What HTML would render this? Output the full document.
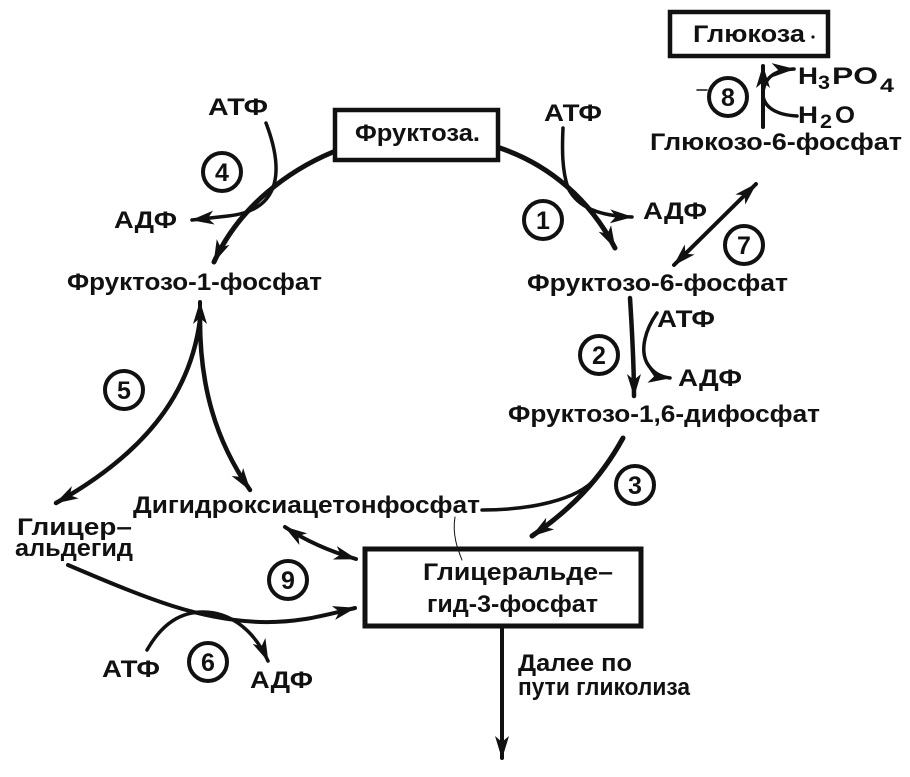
<!DOCTYPE html>
<html><head><meta charset="utf-8"><style>
html,body{margin:0;padding:0;background:#fff;}
svg{display:block;}
text{font-family:"Liberation Sans","DejaVu Sans",sans-serif;font-weight:bold;fill:#111;}
</style></head><body>
<svg width="910" height="777" viewBox="0 0 910 777" xmlns="http://www.w3.org/2000/svg">
<defs>
<marker id="ah" markerUnits="userSpaceOnUse" markerWidth="24" markerHeight="16" refX="22" refY="8" orient="auto-start-reverse">
<path d="M0,1 L23,8 L0,15 L6,8 z" fill="#111"/>
</marker>
</defs>
<g fill="none" stroke="#111" stroke-linecap="round">
<!-- boxes -->
<rect x="335" y="110" width="163" height="50" stroke-width="4.5"/>
<rect x="670" y="12" width="158" height="44" stroke-width="4.5"/>
<rect x="365" y="549" width="276" height="77" stroke-width="5"/>
<!-- circles -->
<g stroke-width="4">
<circle cx="222" cy="172" r="19"/>
<circle cx="543" cy="220" r="19"/>
<circle cx="599" cy="355" r="19"/>
<circle cx="635" cy="485" r="19"/>
<circle cx="124" cy="390" r="19"/>
<circle cx="208" cy="662" r="19"/>
<circle cx="744" cy="245" r="19"/>
<circle cx="728" cy="97" r="19"/>
<circle cx="288" cy="580" r="19"/>
</g>
<!-- Fructose -> F1P -->
<path d="M333,152 C 290,170 240,205 214,262" stroke-width="5" marker-end="url(#ah)"/>
<!-- ATP -> ADP (4) -->
<path d="M266,123 C 282,165 285,210 228,216 L 192,220" stroke-width="3.5" marker-end="url(#ah)"/>
<!-- Fructose -> F6P -->
<path d="M500,148 C 550,165 590,200 615,248" stroke-width="5" marker-end="url(#ah)"/>
<!-- ATP -> ADP (1) -->
<path d="M563,128 C 562,150 562,170 568,188 C 578,208 600,216 632,217" stroke-width="3.5" marker-end="url(#ah)"/>
<!-- double arrow 7 -->
<path d="M674,265 L756,184" stroke-width="4" marker-start="url(#ah)" marker-end="url(#ah)"/>
<!-- G6P -> Glucose -->
<path d="M763,127 L763,66" stroke-width="4" marker-end="url(#ah)"/>
<!-- curve 8 -->
<path d="M797,116 C 775,115 762,106 763,92 C 765,77 775,70 794,69" stroke-width="3.5" marker-end="url(#ah)"/>
<path d="M697,90 L707,90" stroke-width="1.5"/>
<!-- F6P -> F16BP -->
<path d="M630,298 C 632,330 634,365 634,396" stroke-width="4.5" marker-end="url(#ah)"/>
<!-- ATP -> ADP (2) -->
<path d="M657,313 C 645,330 640,350 647,363 C 652,372 660,377 670,378" stroke-width="3.5" marker-end="url(#ah)"/>
<!-- curve 3 -->
<path d="M623,438 C 600,480 570,510 532,536" stroke-width="5" marker-end="url(#ah)"/>
<path d="M482,510 C 530,510 578,500 596,478" stroke-width="3.5"/>
<path d="M455,517 C 452,535 458,550 462,560" stroke-width="1"/>
<!-- down arrow -->
<path d="M502,628 L502,758" stroke-width="4" marker-end="url(#ah)"/>
<!-- DHAP <-> box -->
<path d="M285,527 Q 315,547 356,559" stroke-width="4" marker-start="url(#ah)" marker-end="url(#ah)"/>
<!-- curve 9 -->
<path d="M68,565 C 150,600 200,620 260,622 C 300,623 325,615 355,608" stroke-width="4" marker-end="url(#ah)"/>
<!-- curve 6 -->
<path d="M147,650 C 163,622 182,612 203,612 C 232,612 255,632 268,661" stroke-width="3.5" marker-end="url(#ah)"/>
<!-- curve 5 -->
<path d="M200,330 L200,302" stroke-width="4" marker-end="url(#ah)"/>
<path d="M200,320 C 192,380 160,445 56,503" stroke-width="4.5" marker-end="url(#ah)"/>
<path d="M200,320 C 200,385 215,440 250,490" stroke-width="4.5" marker-end="url(#ah)"/>
</g>
<circle cx="813" cy="37" r="1.6" fill="#111"/>
<!-- labels -->
<g font-size="24">
<text x="355" y="141" textLength="125" lengthAdjust="spacingAndGlyphs">Фруктоза.</text>
<text x="693" y="42" textLength="112" lengthAdjust="spacingAndGlyphs">Глюкоза</text>
<text x="208" y="115" textLength="60" lengthAdjust="spacingAndGlyphs">АТФ</text>
<text x="114" y="228" textLength="63" lengthAdjust="spacingAndGlyphs">АДФ</text>
<text x="544" y="121" textLength="58" lengthAdjust="spacingAndGlyphs">АТФ</text>
<text x="643" y="219" textLength="64" lengthAdjust="spacingAndGlyphs">АДФ</text>
<text x="67" y="290" textLength="255" lengthAdjust="spacingAndGlyphs">Фруктозо-1-фосфат</text>
<text x="527" y="291" textLength="261" lengthAdjust="spacingAndGlyphs">Фруктозо-6-фосфат</text>
<text x="650" y="150" textLength="252" lengthAdjust="spacingAndGlyphs">Глюкозо-6-фосфат</text>
<text x="798" y="84" textLength="20" lengthAdjust="spacingAndGlyphs">H</text>
<text x="818" y="89" font-size="19" textLength="12" lengthAdjust="spacingAndGlyphs">3</text>
<text x="832" y="84" textLength="46" lengthAdjust="spacingAndGlyphs">PO</text>
<text x="880" y="92" font-size="19" textLength="14" lengthAdjust="spacingAndGlyphs">4</text>
<text x="798" y="123" textLength="20" lengthAdjust="spacingAndGlyphs">H</text>
<text x="820" y="128" font-size="19" textLength="12" lengthAdjust="spacingAndGlyphs">2</text>
<text x="835" y="123" textLength="20" lengthAdjust="spacingAndGlyphs">O</text>
<text x="657" y="327" textLength="58" lengthAdjust="spacingAndGlyphs">АТФ</text>
<text x="678" y="386" textLength="64" lengthAdjust="spacingAndGlyphs">АДФ</text>
<text x="508" y="422" textLength="312" lengthAdjust="spacingAndGlyphs">Фруктозо-1,6-дифосфат</text>
<text x="133" y="513" textLength="347" lengthAdjust="spacingAndGlyphs">Дигидроксиацетонфосфат</text>
<text x="17" y="535" textLength="115" lengthAdjust="spacingAndGlyphs">Глицер–</text>
<text x="15" y="556" textLength="118" lengthAdjust="spacingAndGlyphs">альдегид</text>
<text x="423" y="580" textLength="190" lengthAdjust="spacingAndGlyphs">Глицеральде–</text>
<text x="427" y="612" textLength="171" lengthAdjust="spacingAndGlyphs">гид-3-фосфат</text>
<text x="518" y="671" textLength="114" lengthAdjust="spacingAndGlyphs">Далее по</text>
<text x="518" y="695" textLength="172" lengthAdjust="spacingAndGlyphs">пути гликолиза</text>
<text x="102" y="677" textLength="58" lengthAdjust="spacingAndGlyphs">АТФ</text>
<text x="250" y="688" textLength="63" lengthAdjust="spacingAndGlyphs">АДФ</text>
</g>
<!-- circle numbers -->
<g font-size="25" text-anchor="middle">
<text x="222" y="181">4</text>
<text x="543" y="229">1</text>
<text x="599" y="364">2</text>
<text x="635" y="494">3</text>
<text x="124" y="399">5</text>
<text x="208" y="671">6</text>
<text x="744" y="254">7</text>
<text x="728" y="106">8</text>
<text x="288" y="589">9</text>
</g>
</svg>
</body></html>
